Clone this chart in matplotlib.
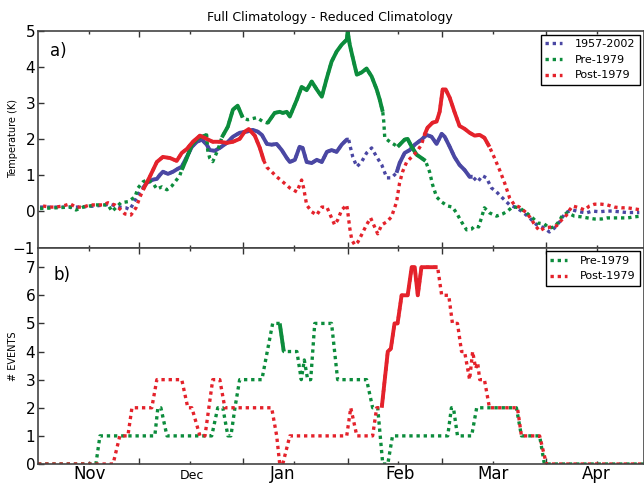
import numpy as np
import matplotlib
matplotlib.use("Agg")
import matplotlib.pyplot as plt

BLUE, GREEN, RED = '#4A47A3', '#0C8C3C', '#E4222B'
DOT = (0, (1, 1.15))

# ---- panel a: temperature difference (K), x = days since 1 Nov ----
all_d = [0.6, 11.9, 17.2, 21.4, 24.3, 26.1, 27.3, 29.1, 30.3, 31.2, 32.3, 34.1, 35.3, 36.2,
         37.1, 38.6, 40.1, 41.5, 42.7, 44.2, 45.7, 47.2, 48.7, 50.1, 51.0, 52.5, 54.0, 56.1,
         57.9, 59.9, 62.0, 63.8, 65.3, 66.5, 68.0, 69.4, 70.9, 72.4, 73.9, 74.8, 76.3, 77.7,
         78.6, 79.8, 81.3, 82.8, 84.3, 85.8, 87.2, 88.7, 90.2, 91.7, 92.3, 92.6, 93.5, 94.7,
         96.1, 97.6, 99.1, 100.6, 102.1, 103.6, 105.0, 106.5, 107.4, 108.9, 110.4, 111.9,
         113.9, 115.4, 116.9, 118.4, 119.9, 120.8, 122.3, 123.7, 125.2, 126.7, 128.2, 129.1,
         130.6, 132.0, 133.2, 134.7, 136.2, 138.0, 140.1, 142.1, 143.9, 146.0, 148.1, 150.4,
         151.9, 153.4, 154.9, 155.8, 157.3, 158.8, 160.8, 162.9, 164.7, 166.8, 168.8, 170.6,
         172.7, 174.8, 176.6, 178.6]
all_t = [0.12, 0.12, 0.15, 0.20, 0.12, 0.10, 0.05, 0.35, 0.55, 0.65, 0.79, 0.88, 0.90, 1.01,
         1.10, 1.04, 1.10, 1.18, 1.24, 1.51, 1.79, 1.93, 1.99, 1.85, 1.70, 1.68, 1.76, 1.90,
         2.07, 2.18, 2.21, 2.26, 2.21, 2.12, 1.87, 1.85, 1.87, 1.70, 1.48, 1.37, 1.43, 1.79,
         1.76, 1.37, 1.34, 1.43, 1.37, 1.65, 1.70, 1.65, 1.85, 1.99, 1.99, 1.85, 1.51, 1.24,
         1.37, 1.62, 1.76, 1.51, 1.29, 0.93, 0.93, 1.07, 1.34, 1.62, 1.70, 1.85,
         1.99, 2.12, 2.07, 1.87, 2.15, 2.07, 1.79, 1.51, 1.29, 1.15, 0.96, 0.96,
         0.82, 0.99, 0.93, 0.65, 0.54, 0.37, 0.18, 0.10, -0.01, -0.18, -0.37, -0.46,
         -0.57, -0.46, -0.29, -0.15, -0.01, 0.04, -0.01, -0.04, 0.01, -0.01, 0.01, 0.01,
         -0.01, -0.03, -0.03, -0.03]
all_sig = [(31.2, 92.3), (106.5, 129.1)]

pre_d = [0.6, 5.3, 9.5, 11.3, 13.4, 17.2, 20.8, 22.0, 24.6, 26.7, 28.8, 29.7, 31.2, 32.6,
         34.1, 35.3, 36.8, 38.3, 39.8, 41.2, 42.1, 42.7, 44.2, 45.7, 47.5, 50.1, 50.4, 51.0,
         51.9, 52.8, 53.4, 54.6, 56.4, 57.9, 59.3, 60.8, 62.3, 65.0, 66.8, 68.2, 70.3, 71.8,
         72.7, 73.9, 74.8, 76.9, 78.3, 79.8, 81.3, 82.8, 84.3, 85.8, 87.2, 88.7, 90.2, 91.7,
         92.0, 92.6, 93.5, 94.7, 96.1, 97.6, 99.1, 100.6, 101.5, 102.4, 102.7, 103.0, 104.5,
         105.9, 106.8, 108.9, 109.8, 111.0, 112.5, 113.9, 115.1, 116.3, 117.2, 118.4, 119.9,
         121.7, 123.1, 124.3, 125.8, 127.3, 128.8, 129.7, 130.9, 131.8, 132.6, 134.1, 136.2,
         138.0, 139.5, 141.0, 143.0, 145.1, 146.9, 148.4, 150.4, 151.9, 153.4, 154.9, 155.8,
         157.3, 159.3, 161.4, 163.2, 165.3, 167.4, 169.1, 171.2, 173.3, 175.1, 177.2, 179.2]
pre_t = [0.08, 0.10, 0.12, 0.04, 0.12, 0.18, 0.18, 0.00, 0.24, 0.27, 0.40, 0.65, 0.82, 0.88,
         0.79, 0.62, 0.68, 0.60, 0.71, 0.88, 0.99, 1.15, 1.48, 1.85, 2.03, 2.12, 1.70, 1.48,
         1.38, 1.57, 1.70, 2.05, 2.35, 2.82, 2.93, 2.60, 2.54, 2.60, 2.49, 2.45, 2.73, 2.76,
         2.73, 2.76, 2.63, 3.10, 3.45, 3.36, 3.60, 3.38, 3.18, 3.70, 4.15, 4.43, 4.62, 4.76,
         4.98, 4.62, 4.26, 3.79, 3.85, 3.96, 3.74, 3.38, 3.10, 2.76, 2.49, 2.04, 1.93,
         1.85, 1.79, 1.99, 2.01, 1.79, 1.57, 1.48, 1.40, 1.10, 0.74, 0.40, 0.26,
         0.15, 0.12, -0.04, -0.29, -0.51, -0.49, -0.40, -0.43, -0.15, 0.10, -0.04, -0.13,
         -0.07, 0.01, 0.13, 0.10, -0.04, -0.18, -0.32, -0.35, -0.46, -0.43, -0.26, -0.10,
         -0.04, -0.13, -0.15, -0.18, -0.21, -0.21, -0.18, -0.18, -0.18, -0.18, -0.15, -0.13]
pre_sig = [(42.7, 50.1), (54.6, 60.8), (68.2, 102.4), (106.8, 115.1)]

post_d = [1.5, 3.6, 5.3, 7.4, 9.5, 11.3, 13.4, 15.4, 17.2, 19.3, 20.8, 22.8, 24.3, 25.8,
          27.6, 29.1, 30.3, 31.2, 33.2, 35.3, 37.1, 39.2, 41.2, 42.7, 44.2, 46.0, 48.1, 50.1,
          51.9, 54.0, 56.1, 57.9, 59.9, 61.4, 62.6, 64.4, 65.9, 67.1, 68.0, 69.4, 70.9, 72.7,
          74.8, 76.9, 78.3, 78.9, 79.8, 81.3, 82.8, 84.3, 85.8, 87.2, 88.1, 89.0, 90.2, 91.7,
          92.0, 92.6, 93.2, 94.1, 95.0, 96.1, 97.6, 98.8, 99.7, 100.9, 102.1, 103.6, 105.0,
          106.5, 107.4, 108.3, 109.5, 111.0, 112.5, 113.9, 114.8, 115.7, 117.2, 118.4, 119.3,
          120.2, 121.1, 122.3, 123.7, 125.2, 126.7, 128.2, 129.7, 131.2, 132.6, 134.1, 135.6,
          137.1, 138.6, 140.1, 141.5, 143.0, 145.1, 146.6, 147.5, 149.0, 150.4, 152.5, 154.0,
          155.5, 157.0, 157.9, 158.8, 160.8, 162.3, 163.8, 165.3, 167.4, 169.1, 171.2, 173.3,
          175.1, 177.2, 179.2]
post_t = [0.15, 0.12, 0.12, 0.15, 0.21, 0.12, 0.12, 0.18, 0.18, 0.18, 0.24, 0.18, 0.07, -0.07,
          -0.10, 0.10, 0.40, 0.60, 0.96, 1.37, 1.51, 1.48, 1.40, 1.62, 1.73, 1.93, 2.10, 2.01,
          1.93, 1.93, 1.90, 1.93, 2.01, 2.21, 2.28, 2.10, 1.76, 1.40, 1.22, 1.10, 0.96, 0.82,
          0.65, 0.54, 0.87, 0.65, 0.18, -0.01, -0.10, 0.12, 0.12, -0.18, -0.37, -0.24, 0.04, 0.18,
          -0.01, -0.46, -0.79, -0.93, -0.85, -0.65, -0.37, -0.18, -0.37, -0.62, -0.37, -0.29, -0.15,
          0.26, 0.79, 1.10, 1.37, 1.51, 1.65, 1.85, 2.12, 2.32, 2.46, 2.49, 2.76,
          3.38, 3.38, 3.15, 2.76, 2.37, 2.29, 2.18, 2.10, 2.12, 2.04, 1.79, 1.48,
          1.15, 0.79, 0.37, 0.18, 0.12, -0.04, -0.22, -0.37, -0.54, -0.46, -0.43, -0.40,
          -0.24, -0.10, 0.04, 0.15, 0.10, 0.04, 0.15, 0.20, 0.20, 0.18, 0.12, 0.10,
          0.10, 0.07, 0.04]
post_sig = [(31.2, 67.1), (114.8, 134.1)]

# ---- panel b: number of events ----
pre_ev_d = [0.0, 17.2, 18.4, 34.7, 35.6, 36.5, 38.3, 51.6, 53.4, 54.9, 56.4, 57.3, 58.5, 59.9,
            66.5, 69.7, 71.8, 73.0, 76.9, 78.2, 79.1, 80.1, 81.0, 82.2, 87.2, 89.0, 97.6, 99.4,
            100.9, 102.4, 103.9, 105.3, 121.7, 122.8, 123.4, 124.6, 128.8, 130.3, 142.1, 143.6,
            149.0, 150.4, 180.0]
pre_ev = [0, 0, 1, 1, 2, 2, 1, 1, 2, 2, 1, 1, 2, 3,
          3, 5, 5, 4, 4, 3, 3.7, 3, 3, 5, 5, 3, 3, 2,
          2, 0, 0, 1, 1, 2, 2, 1, 1, 2, 2, 1,
          1, 0, 0]
pre_ev_sig = [(71.8, 73.0)]

post_ev_d = [0.0, 22.3, 24.3, 26.7, 27.9, 33.8, 35.3, 42.7, 44.5, 45.7, 48.1, 49.6, 51.9, 54.0,
             55.5, 69.4, 70.9, 71.8, 72.7, 74.8, 91.7, 92.9, 94.7, 99.4, 100.6, 102.1, 103.9,
             104.8, 105.9, 106.8, 108.0, 109.8, 111.0, 111.9, 112.8, 113.9, 118.7, 119.9, 122.0,
             123.1, 124.6, 125.8, 126.7, 128.2, 129.1, 130.0, 130.6, 131.2, 132.6, 134.1, 142.4,
             143.6, 149.0, 151.0, 180.0]
post_ev = [0, 0, 1, 1, 2, 2, 3, 3, 2, 2, 1, 1, 3, 3,
           2, 2, 1, 0, 0, 1, 1, 2, 1, 1, 2, 2, 4,
           4.1, 5, 5, 6, 6, 7, 7, 6, 7, 7, 6, 6,
           5, 5, 4, 4, 3, 4, 3.4, 3.6, 3, 3, 2, 2,
           1, 1, 0, 0]
post_ev_sig = [(102.1, 118.7)]

month_lbl = ["Nov", "Dec", "Jan", "Feb", "Mar", "Apr"]
month_lbl_pos = [15.4, 45.7, 72.7, 107.4, 135.3, 165.9]
month_size = [12, 9, 12, 12, 12, 12]
month_start = [30, 61, 92, 120, 151]
mid_month = [15, 45, 76, 107, 135, 166]


def solid_part(days, vals, spans):
    d = np.asarray(days, float)
    v = np.asarray(vals, float)
    m = np.zeros(len(d), bool)
    for a, b in spans:
        m |= (d >= a - 1e-6) & (d <= b + 1e-6)
    return np.where(m, v, np.nan)


def draw(ax, d, v, spans, color, label):
    ax.plot(d, v, color=color, lw=2.4, linestyle=DOT, label=label)
    ax.plot(d, solid_part(d, v, spans), color=color, lw=2.8, solid_capstyle='butt')


fig = plt.figure(figsize=(6.44, 4.83), dpi=100)
ax1 = fig.add_axes([38/644, 1-247.5/483, 606/644, 216.5/483])
ax2 = fig.add_axes([38/644, 1-464/483, 606/644, 216.5/483], sharex=ax1)

draw(ax1, all_d, all_t, all_sig, BLUE, "1957-2002")
draw(ax1, pre_d, pre_t, pre_sig, GREEN, "Pre-1979")
draw(ax1, post_d, post_t, post_sig, RED, "Post-1979")
draw(ax2, pre_ev_d, pre_ev, pre_ev_sig, GREEN, "Pre-1979")
draw(ax2, post_ev_d, post_ev, post_ev_sig, RED, "Post-1979")

ax1.set_ylim(-1, 5)
ax1.set_yticks(range(-1, 6))
ax2.set_ylim(0, 7.7)
ax2.set_yticks(range(0, 8))
ax1.set_xlim(0, 180)

for ax in (ax1, ax2):
    ax.set_xticks(month_start)
    ax.set_xticks(mid_month, minor=True)
    ax.tick_params(which='both', direction='in', top=True, bottom=True,
                   labelbottom=False, color='#333333')
    ax.tick_params(which='major', length=4, width=1)
    ax.tick_params(which='minor', length=2.2, width=1)
    ax.tick_params(axis='y', labelsize=11, pad=2)
    for s in ax.spines.values():
        s.set_color('#444444')
        s.set_linewidth(1.2)
    ax.legend(loc='upper right', fontsize=8, frameon=True, fancybox=False,
              edgecolor='black', framealpha=1, borderaxespad=0.35,
              handlelength=1.5, handletextpad=1.2).get_frame().set_linewidth(1)

for lbl, pos, fs in zip(month_lbl, month_lbl_pos, month_size):
    ax2.text(pos, -0.069, lbl, transform=ax2.get_xaxis_transform(),
             ha='center', va='baseline', fontsize=fs)

ax1.text(0.02, 0.907, "a)", transform=ax1.transAxes, fontsize=12, ha='left', va='center')
ax2.text(0.025, 0.873, "b)", transform=ax2.transAxes, fontsize=12, ha='left', va='center')

fig.text(329.5/644, 1-21/483, "Full Climatology - Reduced Climatology",
         ha='center', va='baseline', fontsize=9)
fig.text(13/644, 1-139/483, "Temperature (K)", rotation=90, ha='center', va='center', fontsize=7)
fig.text(13/644, 1-356/483, "# EVENTS", rotation=90, ha='center', va='center', fontsize=7)

fig.savefig("out.png", dpi=100)
